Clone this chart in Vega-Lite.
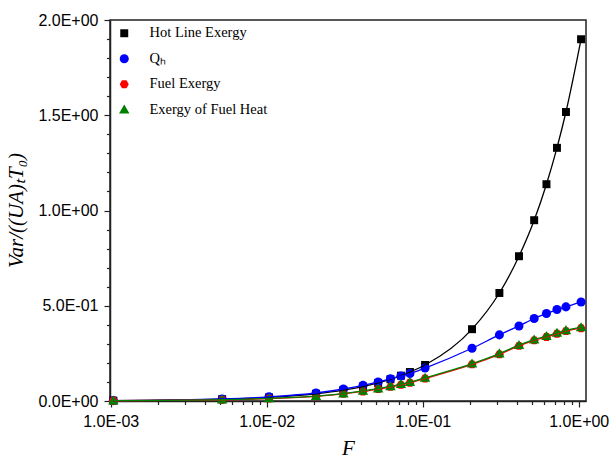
{
  "$schema": "https://vega.github.io/schema/vega-lite/v6.json",
  "autosize": "none",
  "width": 476,
  "height": 381,
  "padding": {"left": 110, "top": 20, "right": 23, "bottom": 58},
  "background": "white",
  "config": {
    "view": {"stroke": "#222", "strokeWidth": 1.5},
    "axis": {
      "domainColor": "#222",
      "domainWidth": 1.5,
      "tickColor": "#222",
      "tickWidth": 1.2,
      "grid": false,
      "labelFlush": false,
      "labelOverlap": false,
      "labelFont": "Liberation Sans",
      "labelFontSize": 16,
      "labelColor": "#000",
      "titleFont": "Liberation Serif",
      "titleFontStyle": "italic",
      "titleFontWeight": "normal",
      "titleFontSize": 21,
      "titleColor": "#000"
    }
  },
  "data": {
    "values": [
      {"F": 0.00104, "series": "Hot Line Exergy", "v": 0.0019},
      {"F": 0.00518, "series": "Hot Line Exergy", "v": 0.0095},
      {"F": 0.01035, "series": "Hot Line Exergy", "v": 0.019},
      {"F": 0.0207, "series": "Hot Line Exergy", "v": 0.038},
      {"F": 0.031, "series": "Hot Line Exergy", "v": 0.057},
      {"F": 0.0414, "series": "Hot Line Exergy", "v": 0.076},
      {"F": 0.0518, "series": "Hot Line Exergy", "v": 0.095},
      {"F": 0.0621, "series": "Hot Line Exergy", "v": 0.114},
      {"F": 0.0725, "series": "Hot Line Exergy", "v": 0.133},
      {"F": 0.0828, "series": "Hot Line Exergy", "v": 0.152},
      {"F": 0.1035, "series": "Hot Line Exergy", "v": 0.189},
      {"F": 0.207, "series": "Hot Line Exergy", "v": 0.377},
      {"F": 0.31, "series": "Hot Line Exergy", "v": 0.567},
      {"F": 0.414, "series": "Hot Line Exergy", "v": 0.76},
      {"F": 0.518, "series": "Hot Line Exergy", "v": 0.949},
      {"F": 0.621, "series": "Hot Line Exergy", "v": 1.138},
      {"F": 0.725, "series": "Hot Line Exergy", "v": 1.329},
      {"F": 0.828, "series": "Hot Line Exergy", "v": 1.517},
      {"F": 1.035, "series": "Hot Line Exergy", "v": 1.899},

      {"F": 0.00104, "series": "Qₕ", "v": 0.002},
      {"F": 0.00518, "series": "Qₕ", "v": 0.011},
      {"F": 0.01035, "series": "Qₕ", "v": 0.022},
      {"F": 0.0207, "series": "Qₕ", "v": 0.042},
      {"F": 0.031, "series": "Qₕ", "v": 0.063},
      {"F": 0.0414, "series": "Qₕ", "v": 0.082},
      {"F": 0.0518, "series": "Qₕ", "v": 0.1},
      {"F": 0.0621, "series": "Qₕ", "v": 0.117},
      {"F": 0.0725, "series": "Qₕ", "v": 0.131},
      {"F": 0.0828, "series": "Qₕ", "v": 0.144},
      {"F": 0.1035, "series": "Qₕ", "v": 0.173},
      {"F": 0.207, "series": "Qₕ", "v": 0.277},
      {"F": 0.31, "series": "Qₕ", "v": 0.347},
      {"F": 0.414, "series": "Qₕ", "v": 0.394},
      {"F": 0.518, "series": "Qₕ", "v": 0.433},
      {"F": 0.621, "series": "Qₕ", "v": 0.459},
      {"F": 0.725, "series": "Qₕ", "v": 0.48},
      {"F": 0.828, "series": "Qₕ", "v": 0.494},
      {"F": 1.035, "series": "Qₕ", "v": 0.52},

      {"F": 0.00104, "series": "Fuel Exergy", "v": 0.0012},
      {"F": 0.00518, "series": "Fuel Exergy", "v": 0.0062},
      {"F": 0.01035, "series": "Fuel Exergy", "v": 0.0125},
      {"F": 0.0207, "series": "Fuel Exergy", "v": 0.024},
      {"F": 0.031, "series": "Fuel Exergy", "v": 0.037},
      {"F": 0.0414, "series": "Fuel Exergy", "v": 0.05},
      {"F": 0.0518, "series": "Fuel Exergy", "v": 0.062},
      {"F": 0.0621, "series": "Fuel Exergy", "v": 0.074},
      {"F": 0.0725, "series": "Fuel Exergy", "v": 0.085},
      {"F": 0.0828, "series": "Fuel Exergy", "v": 0.096},
      {"F": 0.1035, "series": "Fuel Exergy", "v": 0.118},
      {"F": 0.207, "series": "Fuel Exergy", "v": 0.192},
      {"F": 0.31, "series": "Fuel Exergy", "v": 0.245},
      {"F": 0.414, "series": "Fuel Exergy", "v": 0.289},
      {"F": 0.518, "series": "Fuel Exergy", "v": 0.318},
      {"F": 0.621, "series": "Fuel Exergy", "v": 0.336},
      {"F": 0.725, "series": "Fuel Exergy", "v": 0.353},
      {"F": 0.828, "series": "Fuel Exergy", "v": 0.367},
      {"F": 1.035, "series": "Fuel Exergy", "v": 0.382},

      {"F": 0.00104, "series": "Exergy of Fuel Heat", "v": 0.0015},
      {"F": 0.00518, "series": "Exergy of Fuel Heat", "v": 0.007},
      {"F": 0.01035, "series": "Exergy of Fuel Heat", "v": 0.014},
      {"F": 0.0207, "series": "Exergy of Fuel Heat", "v": 0.026},
      {"F": 0.031, "series": "Exergy of Fuel Heat", "v": 0.039},
      {"F": 0.0414, "series": "Exergy of Fuel Heat", "v": 0.053},
      {"F": 0.0518, "series": "Exergy of Fuel Heat", "v": 0.065},
      {"F": 0.0621, "series": "Exergy of Fuel Heat", "v": 0.077},
      {"F": 0.0725, "series": "Exergy of Fuel Heat", "v": 0.088},
      {"F": 0.0828, "series": "Exergy of Fuel Heat", "v": 0.099},
      {"F": 0.1035, "series": "Exergy of Fuel Heat", "v": 0.121},
      {"F": 0.207, "series": "Exergy of Fuel Heat", "v": 0.196},
      {"F": 0.31, "series": "Exergy of Fuel Heat", "v": 0.249},
      {"F": 0.414, "series": "Exergy of Fuel Heat", "v": 0.293},
      {"F": 0.518, "series": "Exergy of Fuel Heat", "v": 0.322},
      {"F": 0.621, "series": "Exergy of Fuel Heat", "v": 0.34},
      {"F": 0.725, "series": "Exergy of Fuel Heat", "v": 0.357},
      {"F": 0.828, "series": "Exergy of Fuel Heat", "v": 0.371},
      {"F": 1.035, "series": "Exergy of Fuel Heat", "v": 0.386}
    ]
  },
  "layer": [
    {
      "mark": {"type": "point", "filled": true, "opacity": 1, "size": 82},
      "encoding": {
        "x": {
          "field": "F", "type": "quantitative",
          "scale": {"type": "log", "domain": [0.00099, 1.113], "nice": false},
          "axis": {
            "orient": "bottom",
            "title": "F",
            "values": [0.001, 0.01, 0.1, 1],
            "labelExpr": "datum.value < 0.005 ? '1.0E-03' : datum.value < 0.05 ? '1.0E-02' : datum.value < 0.5 ? '1.0E-01' : '1.0E+00'",
            "tickSize": 6,
            "labelPadding": 6,
            "titleY": 47,
            "titleBaseline": "middle"
          }
        },
        "y": {
          "field": "v", "type": "quantitative",
          "scale": {"domain": [0, 2], "nice": false, "zero": false},
          "axis": {
            "orient": "left",
            "title": "Var/((UA)ₜT₀)",
            "values": [0, 0.5, 1, 1.5, 2],
            "labelExpr": "datum.value == 0 ? '0.0E+00' : datum.value == 0.5 ? '5.0E-01' : datum.value == 1 ? '1.0E+00' : datum.value == 1.5 ? '1.5E+00' : '2.0E+00'",
            "tickSize": 6,
            "labelPadding": 6,
            "titleX": -94,
            "titleY": 190,
            "titleBaseline": "middle",
            "titleAngle": 270
          }
        },
        "color": {
          "field": "series", "type": "nominal",
          "scale": {
            "domain": ["Hot Line Exergy", "Qₕ", "Fuel Exergy", "Exergy of Fuel Heat"],
            "range": ["#000000", "#0000ff", "#ff0000", "#008000"]
          },
          "legend": {
            "title": null,
            "orient": "none",
            "legendX": 7,
            "legendY": 6,
            "labelFont": "Liberation Serif",
            "labelFontSize": 14.5,
            "labelColor": "#000",
            "symbolSize": 82,
            "labelOffset": 18,
            "rowPadding": 10.5,
            "symbolStrokeWidth": 0
          }
        },
        "shape": {
          "field": "series", "type": "nominal",
          "scale": {
            "domain": ["Hot Line Exergy", "Qₕ", "Fuel Exergy", "Exergy of Fuel Heat"],
            "range": ["M-0.88,-0.88L0.88,-0.88L0.88,0.88L-0.88,0.88Z", "circle", "M-1,0L-0.5,-0.866L0.5,-0.866L1,0L0.5,0.866L-0.5,0.866Z", "M0,-1.15L1.15,0.85L-1.15,0.85Z"]
          },
          "legend": null
        }
      }
    },
    {
      "mark": {"type": "line", "interpolate": "monotone", "strokeWidth": 1.3},
      "encoding": {
        "x": {
          "field": "F", "type": "quantitative",
          "axis": {
            "orient": "bottom",
            "title": null,
            "labels": false,
            "domain": false,
            "values": [0.002, 0.003, 0.004, 0.005, 0.006, 0.007, 0.008, 0.009, 0.02, 0.03, 0.04, 0.05, 0.06, 0.07, 0.08, 0.09, 0.2, 0.3, 0.4, 0.5, 0.6, 0.7, 0.8, 0.9],
            "tickSize": 3.5
          }
        },
        "y": {
          "field": "v", "type": "quantitative",
          "axis": {
            "orient": "left",
            "title": null,
            "labels": false,
            "domain": false,
            "values": [0.1, 0.2, 0.3, 0.4, 0.6, 0.7, 0.8, 0.9, 1.1, 1.2, 1.3, 1.4, 1.6, 1.7, 1.8, 1.9],
            "tickSize": 3.5
          }
        },
        "color": {"field": "series", "type": "nominal", "legend": null},
        "detail": {"field": "series"}
      }
    }
  ],
  "resolve": {"axis": {"x": "independent", "y": "independent"}}
}
